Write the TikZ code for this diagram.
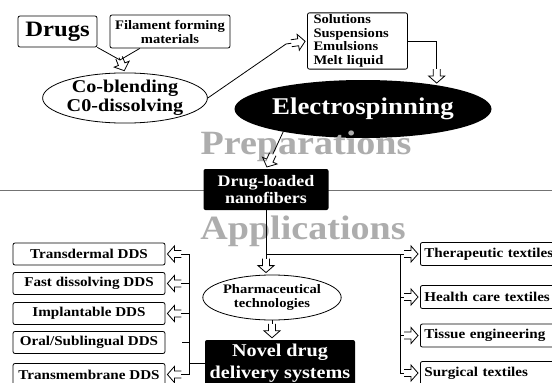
\documentclass[tikz,border=0pt]{standalone}
\usepackage{fontspec}
\setmainfont{Liberation Serif}[FakeStretch=1.12]
\usetikzlibrary{arrows.meta,shapes.geometric,calc}
\definecolor{lightgr}{gray}{0.68}
\definecolor{linegr}{gray}{0.45}
\pgfdeclarearrow{
  name=BlockOpen,
  setup code={
    \pgfarrowssettipend{0pt}
    \pgfarrowssetlineend{-14pt}
    \pgfarrowssetbackend{-14pt}
    \pgfarrowssetvisualbackend{-14pt}
    \pgfarrowshullpoint{0pt}{0pt}
    \pgfarrowsupperhullpoint{-14pt}{8pt}
  },
  drawing code={
    \pgfsetmiterjoin
    \pgfpathmoveto{\pgfpoint{-14pt}{3.5pt}}
    \pgfpathlineto{\pgfpoint{-7pt}{3.5pt}}
    \pgfpathlineto{\pgfpoint{-7pt}{8pt}}
    \pgfpathlineto{\pgfpoint{0pt}{0pt}}
    \pgfpathlineto{\pgfpoint{-7pt}{-8pt}}
    \pgfpathlineto{\pgfpoint{-7pt}{-3.5pt}}
    \pgfpathlineto{\pgfpoint{-14pt}{-3.5pt}}
    \pgfusepathqstroke
  }
}
\tikzset{
  box/.style={draw, rounded corners=2pt, line width=0.8pt, inner sep=2pt, align=center,
    font=\bfseries\fontsize{13.5}{15}\selectfont},
  blackbox/.style={fill=black, text=white, rounded corners=2pt, inner sep=2pt, align=center},
  ell/.style={ellipse, draw, line width=0.8pt, inner sep=0pt, align=center},
  bgtext/.style={text=lightgr, font=\bfseries\fontsize{34}{36}\selectfont},
  lbox/.style={box, minimum width=152pt, minimum height=22pt},
  rbox/.style={box, anchor=west, text width=157pt, inner xsep=4pt, align=left, minimum height=23pt},
  blk/.style={-{BlockOpen}, shorten >=2pt},
  conn/.style={line width=0.8pt}
}
\begin{document}
\begin{tikzpicture}[x=1pt,y=-1pt]
\useasboundingbox (0,0) rectangle (552,383);
% separator line
\coordinate (hl) at (0,190);
\coordinate (hr) at (552,190);
\draw[linegr, line width=1pt] (hl) -- (hr);

\node[box, minimum width=79pt, minimum height=31pt, font=\bfseries\fontsize{22}{24}\selectfont] (drugs) at (57.5,31.5) {Drugs};
\node[box, minimum width=120pt, minimum height=33pt, font=\bfseries\fontsize{13}{14}\selectfont] (fil) at (170,31.5) {Filament forming\\materials};
\node[ell, minimum width=156pt, minimum height=46pt, font=\bfseries\fontsize{18}{19}\selectfont] (cob) at (125,98) {Co-blending\\C0-dissolving};
\node[box, text width=88pt, inner xsep=6pt, minimum height=56pt, align=left, font=\bfseries\fontsize{13}{13.5}\selectfont] (sol) at (357.5,41) {Solutions\\Suspensions\\Emulsions\\Melt liquid};
\node[ellipse, fill=black, text=white, minimum width=200pt, minimum height=58pt, inner sep=0pt, font=\bfseries\fontsize{24}{26}\selectfont] (elec) at (363,109) {Electrospinning};
\node[bgtext] (prep) at (306,146) {Preparations};
\node[blackbox, minimum width=125pt, minimum height=41pt, font=\bfseries\fontsize{16}{17}\selectfont] (nano) at (266,189.5) {Drug-loaded\\nanofibers};
\node[bgtext] (app) at (303,231) {Applications};
\node[ell, minimum width=136pt, minimum height=45pt, font=\bfseries\fontsize{13}{14}\selectfont] (pharm) at (272,297.5) {Pharmaceutical\\technologies};
\node[blackbox, minimum width=150pt, minimum height=47pt, font=\bfseries\fontsize{18}{22}\selectfont] (novel) at (280,363.5) {Novel drug\\delivery systems};

% left boxes
\node[lbox] (trans) at (89,254) {Transdermal DDS};
\node[lbox] (fast) at (89,283.5) {Fast dissolving DDS};
\node[lbox] (impl) at (89,313.5) {Implantable DDS};
\node[lbox] (oral) at (89,342.5) {Oral/Sublingual DDS};
\node[lbox] (tmem) at (89,374.5) {Transmembrane DDS};

% right boxes
\node[rbox] (ther) at (420,254) {Therapeutic textiles};
\node[rbox] (health) at (420,297) {Health care textiles};
\node[rbox] (tiss) at (420,335.5) {Tissue engineering};
\node[rbox] (surg) at (420,373) {Surgical textiles};

% top connectors
\coordinate (m) at (120,60);
\draw[conn] (drugs.south east) -- (m);
\draw[conn] ($(fil.south west)!0.25!(fil.south east)$) -- (m);
\draw[conn, blk] (m) -- (cob.north);
\coordinate (ck) at (286,44);
\draw[conn, blk] (cob.east) -- (ck) -- (sol.west);
\draw[conn, blk] (sol.east) -| (elec.18);
\draw[conn, blk] (elec.196) -- (nano.north);

% middle
\coordinate (j) at (nano.south |- ther.west);
\draw[conn, blk] (nano.south) -- (nano.south |- pharm.north);
\draw[conn, blk] (pharm.south) -- (pharm.south |- novel.north);

% right bus
\coordinate (rb1) at (400,254);
\coordinate (rb4) at (400,373);
\draw[conn] (j) -- (rb1) -- (rb4);
\draw[conn, blk] (rb1) -- (ther.west);
\draw[conn, blk] (rb1 |- health.west) -- (health.west);
\draw[conn, blk] (rb1 |- tiss.west) -- (tiss.west);
\draw[conn, blk] (rb4) -- (surg.west);

% left bus
\coordinate (lb1) at (189,254);
\coordinate (lb5) at (189,374.5);
\coordinate (ostub) at (182,342.5);
\draw[conn] (lb1) -- (lb5);
\draw[conn] (novel.west) -- (novel.west -| lb1);
\draw[conn, blk] (lb1) -- (trans.east);
\draw[conn, blk] (lb1 |- fast.east) -- (fast.east);
\draw[conn, blk] (lb1 |- impl.east) -- (impl.east);
\draw[conn] (lb1 |- oral.east) -- (ostub);
\draw[conn, blk] (lb5) -- (tmem.east);
\end{tikzpicture}
\end{document}
